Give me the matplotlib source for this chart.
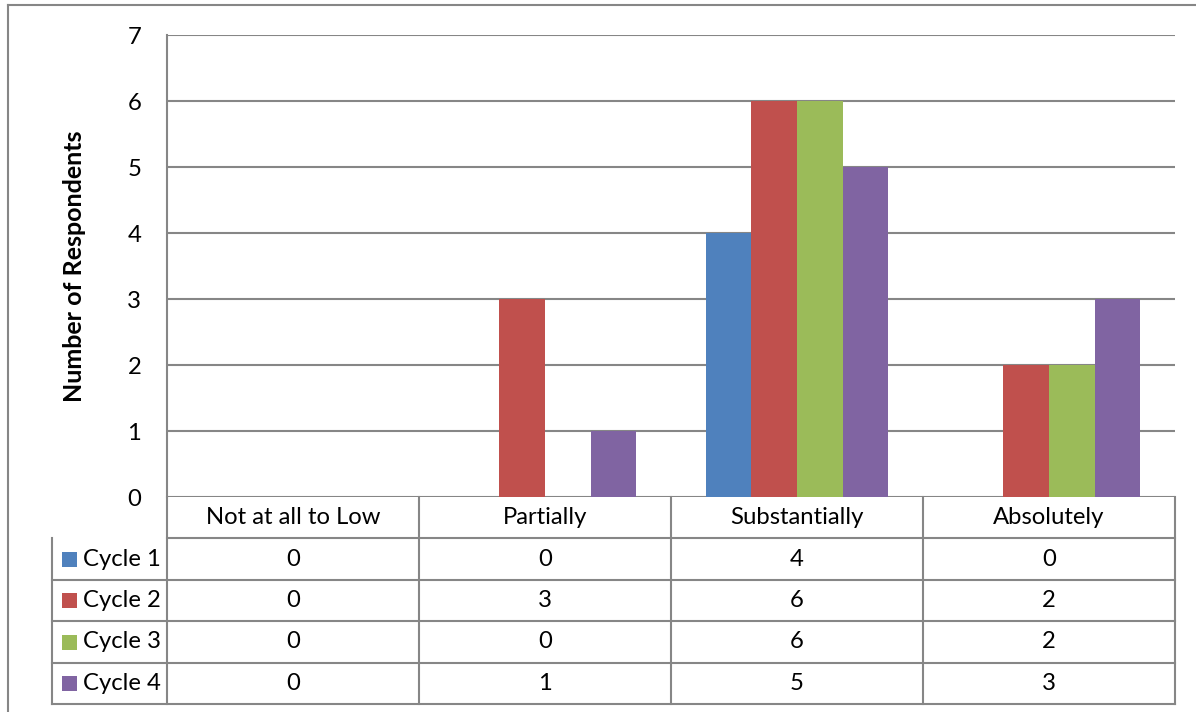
import matplotlib
matplotlib.use("Agg")
import matplotlib.pyplot as plt
from matplotlib.lines import Line2D
from matplotlib.patches import Rectangle
import matplotlib.transforms as mtransforms
import numpy as np

categories = ["Not at all to Low", "Partially", "Substantially", "Absolutely"]
series_names = ["Cycle 1", "Cycle 2", "Cycle 3", "Cycle 4"]
cycle1 = [0, 0, 4, 0]
cycle2 = [0, 3, 6, 2]
cycle3 = [0, 0, 6, 2]
cycle4 = [0, 1, 5, 3]
colors = ["#4F81BD", "#C0504D", "#9BBB59", "#8064A2"]
y_ticks = [0, 1, 2, 3, 4, 5, 6, 7]
y_label = "Number of Respondents"

series = [cycle1, cycle2, cycle3, cycle4]

plt.rcParams["font.family"] = ["Lato", "DejaVu Sans"]
FS = 17.2

W, H = 1196, 712
fig = plt.figure(figsize=(W / 100, H / 100), dpi=100)
fig.patch.set_facecolor("white")

# plot area in pixels
px_left, px_right, px_top, px_bottom = 167, 1175, 35, 497
ax = fig.add_axes([px_left / W, 1 - px_bottom / H,
                   (px_right - px_left) / W, (px_bottom - px_top) / H])

grid_color = "#868686"
n_cat = len(categories)
x = np.arange(n_cat)
bar_w = 0.181
offsets = (np.arange(len(series)) - 1.5) * bar_w
for vals, off, col in zip(series, offsets, colors):
    ax.bar(x + off, vals, width=bar_w, color=col, zorder=3, linewidth=0)

ax.set_xlim(-0.5, n_cat - 0.5)
ax.set_ylim(0, 7)
ax.set_yticks(y_ticks)
ax.set_yticklabels([str(t) for t in y_ticks], fontsize=FS)
ax.tick_params(axis="y", length=0, pad=18.5)
ax.set_xticks([])
for t in y_ticks:
    ax.axhline(t, color=grid_color, lw=1.5, zorder=1)
for s in ["top", "right", "bottom"]:
    ax.spines[s].set_visible(False)
ax.spines["left"].set_color(grid_color)
ax.spines["left"].set_linewidth(1.5)

ax.set_ylabel(y_label, fontsize=18, fontweight="bold")
ax.yaxis.set_label_coords(-(px_left - 86) / (px_right - px_left), 0.5)

# data table beneath the axis: x in data units, y in axes fraction
trans = mtransforms.blended_transform_factory(ax.transData, ax.transAxes)
ph = px_bottom - px_top
row_px = [497, 538, 580, 621, 663, 704]
row_y = [(px_bottom - r) / ph for r in row_px]
label_left = -0.5 - (px_left - 52) / ((px_right - px_left) / n_cat)

line_kw = dict(color=grid_color, lw=1.5, transform=trans, clip_on=False)
# header row (category names)
ax.add_line(Line2D([-0.5, n_cat - 0.5], [row_y[1]] * 2, **line_kw))
for i in range(n_cat + 1):
    ax.add_line(Line2D([i - 0.5] * 2, [row_y[0], row_y[-1]], **line_kw))
# value rows
for r in range(2, len(row_y)):
    ax.add_line(Line2D([label_left, n_cat - 0.5], [row_y[r]] * 2, **line_kw))
ax.add_line(Line2D([label_left] * 2, [row_y[1], row_y[-1]], **line_kw))

for i, cat in enumerate(categories):
    ax.text(i, (row_y[0] + row_y[1]) / 2, cat, transform=trans,
            ha="center", va="center", fontsize=FS, clip_on=False)

unit_px = (px_right - px_left) / n_cat
for r, (name, vals, col) in enumerate(zip(series_names, series, colors)):
    yc = (row_y[r + 1] + row_y[r + 2]) / 2
    sw = 15 / ph
    ax.add_patch(Rectangle((label_left + 10 / unit_px, yc - sw / 2),
                           15 / unit_px, sw, facecolor=col, edgecolor="none",
                           transform=trans, clip_on=False))
    ax.text(label_left + 31 / unit_px, yc, name, transform=trans,
            ha="left", va="center", fontsize=FS, clip_on=False)
    for i, v in enumerate(vals):
        ax.text(i, yc, str(v), transform=trans, ha="center", va="center",
                fontsize=FS, clip_on=False)

# outer chart frame
frame_kw = dict(color=grid_color, lw=1.5, transform=fig.transFigure)
fig.add_artist(Line2D([8 / W, 8 / W], [1 - 5 / H, 0], **frame_kw))
fig.add_artist(Line2D([8 / W, 1], [1 - 5 / H, 1 - 5 / H], **frame_kw))

fig.savefig("out.png", dpi=100, facecolor="white")
